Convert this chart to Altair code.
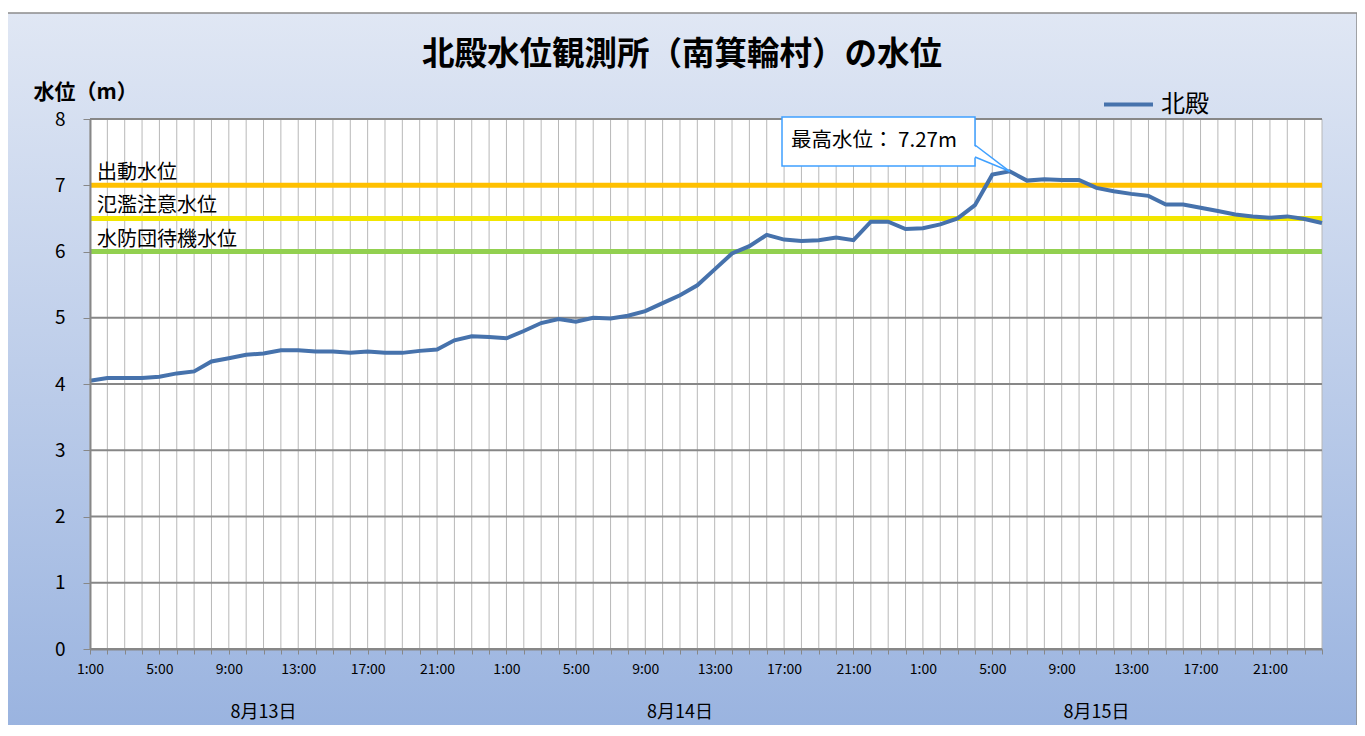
import json
import altair as alt
import pandas as pd

# ---------------- data ----------------
TITLE = "北殿水位観測所（南箕輪村）の水位"
Y_TITLE = "水位（m）"
SERIES = "北殿"
DAYS = ["8月13日", "8月14日", "8月15日"]
HOURS = ["1:00", "2:00", "3:00", "4:00", "5:00", "6:00", "7:00", "8:00",
         "9:00", "10:00", "11:00", "12:00", "13:00", "14:00", "15:00", "16:00",
         "17:00", "18:00", "19:00", "20:00", "21:00", "22:00", "23:00", "24:00"]
SHOWN_HOURS = ["1:00", "5:00", "9:00", "13:00", "17:00", "21:00"]
DATE_LABEL_HOUR = "11:00"
LEVELS = [
    4.05, 4.09, 4.09, 4.09, 4.11, 4.16, 4.19, 4.34, 4.39, 4.44, 4.46, 4.51,
    4.51, 4.49, 4.49, 4.47, 4.49, 4.47, 4.47, 4.50, 4.52, 4.66, 4.72, 4.71,
    4.69, 4.80, 4.92, 4.98, 4.94, 5.00, 4.99, 5.03, 5.10, 5.22, 5.34, 5.49,
    5.73, 5.97, 6.08, 6.25, 6.18, 6.16, 6.17, 6.21, 6.17, 6.45, 6.45, 6.34,
    6.35, 6.41, 6.50, 6.70, 7.16, 7.21, 7.07, 7.09, 7.08, 7.08, 6.96, 6.91,
    6.87, 6.84, 6.71, 6.71, 6.66, 6.61, 6.56, 6.53, 6.51, 6.53, 6.49, 6.43,
]
Y_TICKS = [0, 1, 2, 3, 4, 5, 6, 7, 8]
THRESH_NAMES = ["出動水位", "氾濫注意水位", "水防団待機水位"]
THRESH_VALUES = [7.0, 6.5, 6.0]
THRESH_COLORS = ["#FFC000", "#F2E600", "#92D050"]
PEAK_TEXT = "最高水位： 7.27m"

KEYS = [f"{d} {h}" for d in DAYS for h in HOURS]

# ---------------- layout ----------------
W, H = 1232, 530
FONT = "Noto Sans CJK JP"
BLUE = "#4672AC"
GRID_DARK = "#878787"
GRID_LIGHT = "#B8B8B8"

df_line = pd.DataFrame({"key": KEYS, "level": LEVELS, "series": SERIES})
df_keys = pd.DataFrame({"key": KEYS})
df_ticks = pd.DataFrame({"tick": Y_TICKS})
df_thr = pd.DataFrame({"name": THRESH_NAMES, "value": THRESH_VALUES, "color": THRESH_COLORS})
df_dates = pd.DataFrame({"key": [f"{d} {DATE_LABEL_HOUR}" for d in DAYS], "label": DAYS})
df_one = pd.DataFrame({"d": [0]})

label_expr = (
    f"indexof({json.dumps(SHOWN_HOURS)}, split(datum.value, ' ')[1]) >= 0"
    " ? split(datum.value, ' ')[1] : ''"
)

x_scale = alt.Scale(type="point", domain=KEYS, padding=0)
y_scale = alt.Scale(domain=[0, 8], nice=False, zero=True)

x_axis = alt.Axis(
    title=None, grid=False, labelExpr=label_expr, labelAngle=0, labelOverlap=False,
    labelFontSize=14, labelFont=FONT, labelColor="#000000", labelPadding=8,
    tickSize=5, tickColor=GRID_DARK, domainColor=GRID_DARK, domainWidth=2, zindex=1,
)
y_axis = alt.Axis(
    title=Y_TITLE, values=Y_TICKS, grid=False, format="d",
    labelFontSize=19, labelFont=FONT, labelColor="#000000", labelPadding=18,
    tickSize=7, tickColor=GRID_DARK, domainColor=GRID_DARK, domainWidth=2,
    titleAngle=0, titleAlign="left", titleBaseline="middle", titleX=-57, titleY=-27,
    titleFontSize=21, titleFontWeight="bold", titleFont=FONT, titleColor="#000000",
    zindex=1,
)

X = lambda f: alt.X(f, type="ordinal", scale=x_scale, axis=x_axis)
Y = lambda f: alt.Y(f, type="quantitative", scale=y_scale, axis=y_axis)

# background gradient panel
bg = alt.Chart(df_one).mark_rect(
    fill=alt.LinearGradient(
        gradient="linear",
        stops=[alt.GradientStop(color="#E0E7F4", offset=0),
               alt.GradientStop(color="#98B2DF", offset=1)],
        x1=0, x2=0, y1=0, y2=1,
    ),
    stroke="#8C8C8C", strokeWidth=1.5,
).encode(x=alt.value(-85), x2=alt.value(W + 35), y=alt.value(-106), y2=alt.value(H + 100))

plot_bg = alt.Chart(df_one).mark_rect(fill="white").encode(
    x=alt.value(0), x2=alt.value(W), y=alt.value(0), y2=alt.value(H)
)

vgrid = alt.Chart(df_keys).mark_rule(color=GRID_LIGHT, strokeWidth=1).encode(x=X("key"))
hgrid = alt.Chart(df_ticks).mark_rule(color=GRID_DARK, strokeWidth=2).encode(y=Y("tick"))

thr = alt.Chart(df_thr).mark_rule(strokeWidth=5).encode(
    y=Y("value"), color=alt.Color("color:N", scale=None)
)
thr_text = alt.Chart(df_thr).mark_text(
    align="left", baseline="middle", dy=-12, fontSize=20, font=FONT, color="#000000"
).encode(x=alt.value(7), y=Y("value"), text="name:N")

line = alt.Chart(df_line).mark_line(strokeWidth=4).encode(
    x=X("key"), y=Y("level"),
    color=alt.Color(
        "series:N",
        scale=alt.Scale(domain=[SERIES], range=[BLUE]),
        legend=alt.Legend(
            title=None, orient="none", legendX=1012, legendY=-41,
            symbolType="stroke", symbolStrokeWidth=4, symbolSize=2400,
            labelFontSize=24, labelFont=FONT, labelColor="#000000", labelOffset=6,
            zindex=1,
        ),
    ),
)

# callout
box = alt.Chart(df_one).mark_rect(fill="white", stroke="#3FA0FF", strokeWidth=1.5).encode(
    x=alt.value(692), x2=alt.value(885), y=alt.value(-2), y2=alt.value(47)
)
tri = alt.Chart(df_one).mark_point(
    shape="M -0.96 -0.7 L -0.96 -0.1 L 0.88 0.615 Z",
    filled=True, fill="white", stroke=None, size=1600, opacity=1,
).encode(x=alt.value(902), y=alt.value(40))
ptr1 = alt.Chart(df_one).mark_rule(color="#3FA0FF", strokeWidth=1.5).encode(
    x=alt.value(885), y=alt.value(26), x2=alt.value(919.6), y2=alt.value(52.3)
)
ptr2 = alt.Chart(df_one).mark_rule(color="#3FA0FF", strokeWidth=1.5).encode(
    x=alt.value(885), y=alt.value(38), x2=alt.value(919.6), y2=alt.value(52.3)
)
peak_text = alt.Chart(pd.DataFrame({"t": [PEAK_TEXT]})).mark_text(
    align="left", baseline="middle", fontSize=20.5, font=FONT, color="#000000"
).encode(x=alt.value(701), y=alt.value(22), text="t:N")

dates = alt.Chart(df_dates).mark_text(
    align="center", baseline="middle", fontSize=18, font=FONT, color="#000000"
).encode(x=X("key"), y=alt.value(H + 64), text="label:N")

title = alt.Chart(pd.DataFrame({"t": [TITLE]})).mark_text(
    align="center", baseline="middle", fontSize=32.5, fontWeight="bold", font=FONT, color="#000000"
).encode(x=alt.value(592), y=alt.value(-64), text="t:N")

chart = alt.layer(
    bg, plot_bg, vgrid, hgrid, thr, thr_text, line,
    box, tri, ptr1, ptr2, peak_text, dates, title,
).properties(
    width=W, height=H,
    autosize=alt.AutoSizeParams(type="none"),
    padding={"left": 82, "top": 111, "right": 35, "bottom": 76},
).configure_view(strokeWidth=0)

chart.save("out.html", embed_options={"renderer": "svg", "actions": False})
